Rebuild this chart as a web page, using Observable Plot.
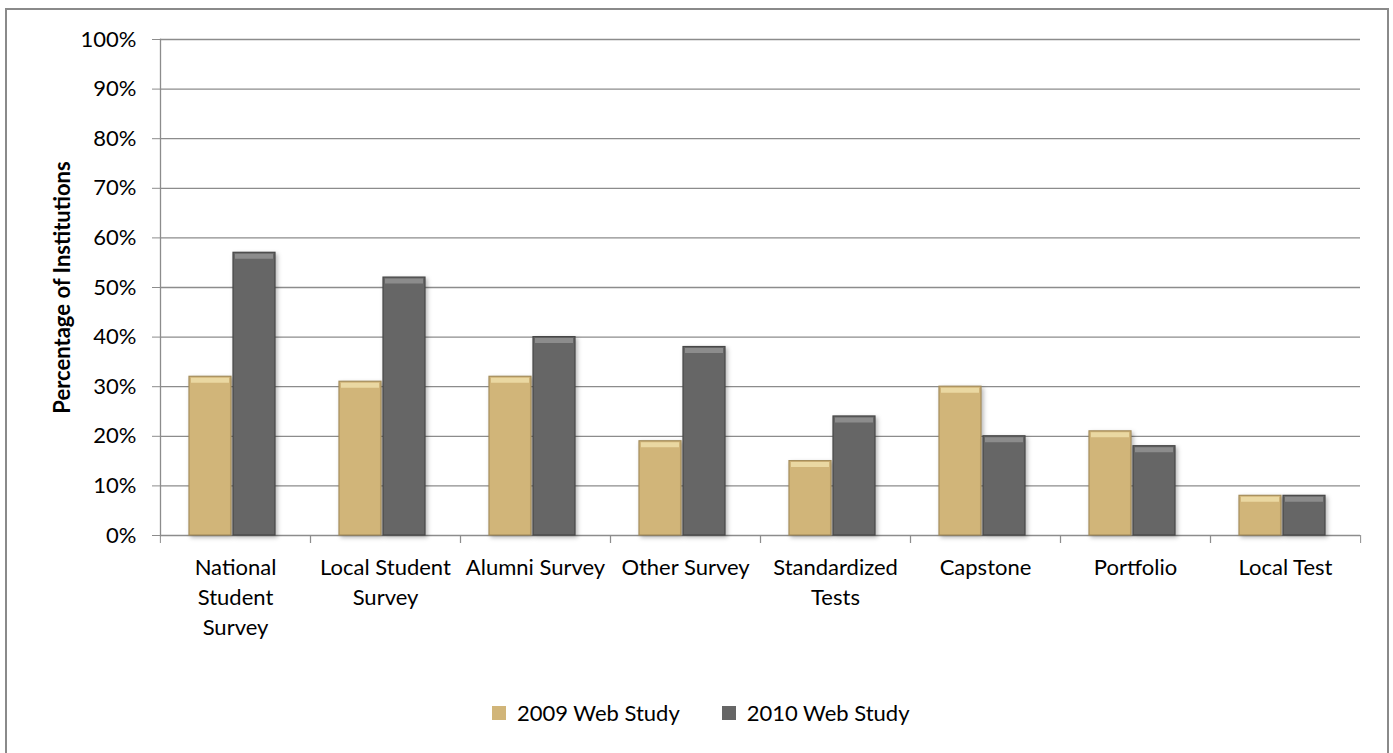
<!DOCTYPE html>
<html>
<head>
<meta charset="utf-8">
<script src="https://cdn.jsdelivr.net/npm/d3@7"></script>
<script src="https://cdn.jsdelivr.net/npm/@observablehq/plot@0.6"></script>
<style>
  body { margin: 0; background: #fff; font-family: Lato, "Open Sans", sans-serif; }
  #frame { position: absolute; left: 5px; top: 8px; width: 1380px; height: 760px; border: 2px solid #8a8a8a; }
  #chart { position: absolute; left: 0; top: 0; }
  #legend { position: absolute; left: 485px; top: 686px; }
  #legend div, #legend span { font-family: Lato, sans-serif !important; font-size: 22px !important; color: #000 !important; }
  #legend .lg-swatch { margin-right: 42px !important; }
  #legend .lg-swatch > svg { margin-right: 11px !important; }
  g[aria-label="y-axis label"] text { font-weight: bold; }
  g[aria-label="bar"] rect { filter: drop-shadow(2px 2px 2px rgba(0,0,0,0.28)); }
</style>
</head>
<body>
<div id="frame"><div id="chart"></div><div id="legend"></div></div>
<script>
const categories = ["National Student Survey", "Local Student Survey", "Alumni Survey", "Other Survey", "Standardized Tests", "Capstone", "Portfolio", "Local Test"];
const tickLabels = ["National\nStudent\nSurvey", "Local Student\nSurvey", "Alumni Survey", "Other Survey", "Standardized\nTests", "Capstone", "Portfolio", "Local Test"];
const series = ["2009 Web Study", "2010 Web Study"];
const values2009 = [32, 31, 32, 19, 15, 30, 21, 8];
const values2010 = [57, 52, 40, 38, 24, 20, 18, 8];
const yTicks = [0, 10, 20, 30, 40, 50, 60, 70, 80, 90, 100];

const fills = ["#D1B579", "#666666"];
const edges = ["#A58E5C", "#474747"];
const highlights = ["#EAD8A2", "#8C8C8C"];

const data = categories.flatMap((c, i) => [
  {category: c, series: series[0], value: values2009[i], s: 0},
  {category: c, series: series[1], value: values2010[i], s: 1}
]);

const W = 1380, H = 660, ML = 152, MR = 26, MT = 29, MB = 135;
const half = (W - ML - MR) / categories.length / 2;
const axisColor = "#8c8c8c";

const plot = Plot.plot({
  width: W, height: H,
  marginLeft: ML, marginRight: MR, marginTop: MT, marginBottom: MB,
  style: {fontFamily: "Lato, sans-serif", fontSize: "22px", color: "#000", background: "transparent", overflow: "visible"},
  fx: {domain: categories, padding: 0, label: null},
  x: {domain: series, paddingInner: 0.044, paddingOuter: 0.69, align: 0.45, axis: null},
  y: {domain: [0, 100], label: null},
  color: {domain: series, range: fills},
  marks: [
    Plot.gridY(yTicks, {stroke: axisColor, strokeOpacity: 1, strokeWidth: 1.3}),
    Plot.axisY(yTicks, {
      tickSize: 8, tickPadding: 16, tickFormat: d => d + "%", stroke: axisColor, strokeOpacity: 1,
      label: "Percentage of Institutions", labelAnchor: "center", labelArrow: "none", labelOffset: 106,
      fontSize: 22
    }),
    Plot.barY(data, {
      fx: "category", x: "series", y: "value", fill: "series",
      stroke: {value: d => edges[d.s], scale: null}, strokeWidth: 1.2
    }),
    Plot.tickY(data, {
      fx: "category", x: "series", y: "value",
      stroke: {value: d => highlights[d.s], scale: null}, strokeWidth: 5, dy: 3.5, insetLeft: 2, insetRight: 2
    }),
    Plot.axisFx({
      anchor: "bottom", tickSize: 0, tickPadding: 18, label: null,
      tickFormat: d => tickLabels[categories.indexOf(d)], lineHeight: 1.36, fontSize: 22
    }),
    Plot.axisFx({anchor: "bottom", tickSize: 8, dx: -half, tickFormat: () => "", stroke: axisColor, strokeOpacity: 1, label: null}),
    Plot.axisFx([categories[categories.length - 1]], {anchor: "bottom", tickSize: 8, dx: half, tickFormat: () => "", stroke: axisColor, strokeOpacity: 1, label: null}),
    Plot.frame({anchor: "left", facet: "super", stroke: axisColor, strokeWidth: 1.3})
  ]
});
document.getElementById("chart").appendChild(plot);
document.getElementById("legend").appendChild(plot.legend("color", {swatchSize: 14, className: "lg"}));
</script>
</body>
</html>
